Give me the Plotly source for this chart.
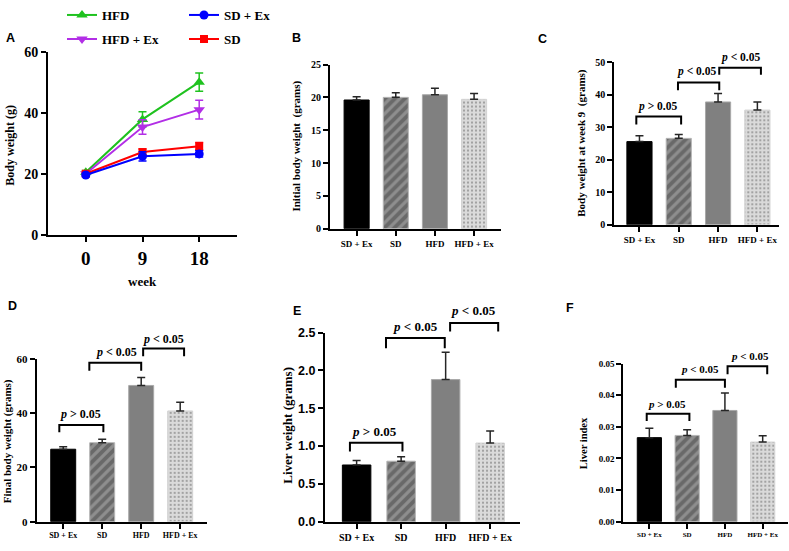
import plotly.graph_objects as go

W, H = 789, 551

# ---------------- data ----------------
groups = ["SD + Ex", "SD", "HFD", "HFD + Ex"]
weeks = [0, 9, 18]

# Panel A: body weight over time (mean, SEM)
hfd_bw = [20.5, 37.8, 50.0]
hfd_bw_err = [0.6, 2.5, 3.0]
hfdex_bw = [20.0, 35.3, 41.0]
hfdex_bw_err = [0.6, 2.4, 3.1]
sd_bw = [20.0, 27.1, 29.0]
sd_bw_err = [0.6, 1.0, 1.2]
sdex_bw = [19.6, 25.7, 26.5]
sdex_bw_err = [0.5, 1.5, 1.0]

# Panels B-F: per-group means and upper error
initial_bw = [19.6, 20.0, 20.4, 19.7]
initial_bw_err = [0.5, 0.7, 1.0, 0.9]
week9_bw = [25.6, 26.6, 37.8, 35.3]
week9_bw_err = [1.8, 1.2, 2.6, 2.5]
final_bw = [26.7, 29.1, 50.2, 40.8]
final_bw_err = [0.9, 1.3, 2.9, 3.2]
liver_wt = [0.75, 0.80, 1.88, 1.04]
liver_wt_err = [0.06, 0.06, 0.36, 0.16]
liver_idx = [0.0266, 0.0273, 0.0352, 0.0252]
liver_idx_err = [0.0030, 0.0018, 0.0055, 0.0020]

# significance brackets: (x_left, x_right, y_leg_end, y_bar, sign, label_x, label_y)
brackets_C = [(-0.08, 1.06, 30.9, 33.3, "&gt;", 0.45, 36.4),
              (0.98, 2.03, 41.4, 43.8, "&lt;", 1.46, 47.1),
              (2.03, 3.09, 46.2, 48.3, "&lt;", 2.56, 51.6)]
brackets_D = [(-0.10, 1.03, 33.0, 35.6, "&gt;", 0.45, 39.6),
              (0.67, 2.00, 55.6, 58.6, "&lt;", 1.37, 62.7),
              (2.05, 3.10, 61.0, 63.8, "&lt;", 2.56, 67.3)]
brackets_E = [(-0.15, 1.03, 0.927, 1.043, "&gt;", 0.41, 1.197),
              (0.66, 1.98, 2.295, 2.43, "&lt;", 1.33, 2.585),
              (2.10, 3.18, 2.517, 2.628, "&lt;", 2.62, 2.80)]
brackets_F = [(-0.07, 1.06, 0.0319, 0.0342, "&gt;", 0.46, 0.0373),
              (0.70, 2.00, 0.0424, 0.0449, "&lt;", 1.34, 0.0483),
              (2.07, 3.12, 0.0467, 0.0492, "&lt;", 2.67, 0.0524)]

# ---------------- styles ----------------
SERIF = "Liberation Serif"
SANS = "Liberation Sans"
bar_colors = ["#000000", "#8e8e8e", "#808080", "#dadada"]
bar_line = ["#000000", "#b5b5b5", "#a8a8a8", "#d2d2d2"]
pat_shape = ["", "/", "", "."]
pat_fg = ["#000000", "#0a0a0a", "#808080", "#666666"]
pat_size = [8, 7, 8, 4]
pat_solid = [0.3, 0.55, 0.3, 0.2]


def xdom(p0, p1):
    return [p0 / W, p1 / W]


def ydom(top, bot):
    return [1 - bot / H, 1 - top / H]


fig = go.Figure()

# ---------------- panel A ----------------
series = [
    ("HFD", hfd_bw, hfd_bw_err, "#1fc21f", "triangle-up", 10, "legend"),
    ("HFD + Ex", hfdex_bw, hfdex_bw_err, "#b22ee6", "triangle-down", 10, "legend3"),
    ("SD", sd_bw, sd_bw_err, "#ff0000", "square", 8, "legend4"),
    ("SD + Ex", sdex_bw, sdex_bw_err, "#0000ff", "circle", 9, "legend2"),
]
for name, ys, es, col, sym, sz, lg in series:
    fig.add_trace(go.Scatter(
        x=weeks, y=ys, name=name, mode="lines+markers", legend=lg,
        line=dict(color=col, width=2),
        marker=dict(color=col, symbol=sym, size=sz),
        error_y=dict(type="data", array=es, color=col, thickness=1.5, width=4),
        xaxis="x", yaxis="y", cliponaxis=False,
    ))

# ---------------- bar panels ----------------
panels = [
    ("2", initial_bw, initial_bw_err),
    ("3", week9_bw, week9_bw_err),
    ("4", final_bw, final_bw_err),
    ("5", liver_wt, liver_wt_err),
    ("6", liver_idx, liver_idx_err),
]
xs = list(range(len(groups)))
for ax, vals, errs in panels:
    fig.add_trace(go.Bar(
        x=xs, y=vals, width=0.64, showlegend=False,
        marker=dict(color=bar_colors, line=dict(color=bar_line, width=1),
                    pattern=dict(shape=pat_shape, fgcolor=pat_fg, bgcolor=bar_colors,
                                 size=pat_size, solidity=pat_solid)),
        error_y=dict(type="data", array=errs, arrayminus=[0] * len(errs), symmetric=False,
                     color="#262626", thickness=1.5, width=4),
        xaxis="x" + ax, yaxis="y" + ax, cliponaxis=False,
    ))


def axstyle(**kw):
    d = dict(showline=True, linecolor="black", linewidth=2, ticks="outside",
             ticklen=5, tickwidth=2, tickcolor="black", showgrid=False,
             zeroline=False, fixedrange=True)
    d.update(kw)
    return d


def tf(size, family=SERIF):
    return dict(family=family, size=size, color="black", weight="bold")


geo = {
    # ax: (x px range, y px range (top,bottom), x range, y range, dtick, fmt, ytick font, xtick font size)
    "2": ((330, 500.7), (57.3, 226.7), [-0.68, 3.68], [0, 25], 5, "d", tf(10), 9),
    "3": ((614.3, 779), (55, 222.7), [-0.64, 3.55], [0, 50], 10, "d", tf(10), 9),
    "4": ((36.7, 206.7), (361, 529), [-0.68, 3.68], [0, 60], 20, "d", tf(11), 8),
    "5": ((325, 520), (334, 529), [-0.71, 3.67], [0, 2.5], 0.5, ".1f", tf(12.5, SANS), 10),
    "6": ((623.3, 788), (366, 529), [-0.69, 3.67], [0, 0.05], 0.01, ".2f", tf(9), 7),
}

layout = dict(
    width=W, height=H, autosize=False,
    margin=dict(l=0, r=0, t=0, b=0),
    paper_bgcolor="white", plot_bgcolor="white",
    xaxis=axstyle(domain=xdom(48, 237), range=[-6, 24], tickvals=weeks,
                  tickfont=tf(19), anchor="y"),
    yaxis=axstyle(domain=ydom(44, 233), range=[0, 60], dtick=20,
                  tickfont=tf(14), anchor="x"),
)
for ax, (xp, yp, xr, yr, dt, fmt, ytf, xfs) in geo.items():
    layout["xaxis" + ax] = axstyle(domain=xdom(*xp), range=xr, tickvals=xs,
                                   ticktext=groups, tickfont=tf(xfs), anchor="y" + ax)
    layout["yaxis" + ax] = axstyle(domain=ydom(*yp), range=yr, dtick=dt,
                                   tickformat=fmt, tickfont=ytf, anchor="x" + ax)

# legends
leg_common = dict(bgcolor="rgba(0,0,0,0)", borderwidth=0, font=tf(13),
                  xref="paper", yref="paper", xanchor="left", yanchor="middle",
                  itemclick=False, itemdoubleclick=False)
layout["legend"] = dict(leg_common, x=62 / W, y=1 - 6 / H)
layout["legend3"] = dict(leg_common, x=62 / W, y=1 - 31 / H)
layout["legend2"] = dict(leg_common, x=184 / W, y=1 - 6 / H)
layout["legend4"] = dict(leg_common, x=184 / W, y=1 - 31 / H)

fig.update_layout(**layout)

annotations = []
shapes = []


def ann(text, x, y, size, family=SERIF, angle=0, xref="paper", yref="paper"):
    annotations.append(dict(text=text, x=x, y=y, xref=xref, yref=yref,
                            showarrow=False, textangle=angle,
                            xanchor="center", yanchor="middle",
                            font=dict(family=family, size=size, color="black", weight="bold")))


# panel letters
for letter, px, py in [("A", 10, 30), ("B", 296, 30), ("C", 542, 31),
                       ("D", 12, 306), ("E", 297, 312), ("F", 570, 309)]:
    ann(letter, px / W, 1 - py / H, 12.5, SANS)

# axis titles
ann("Body weight (g)", 10 / W, 1 - 141 / H, 12, angle=-90)
ann("week", 142 / W, 1 - 281 / H, 13)
ann("Initial body weight&nbsp; (grams)", 297 / W, 1 - 142 / H, 11, angle=-90)
ann("Body weight at week 9&nbsp; (grams)", 582 / W, 1 - 138 / H, 11, angle=-90)
ann("Final body weight (grams)", 7 / W, 1 - 446 / H, 11, angle=-90)
ann("Liver weight (grams)", 288 / W, 1 - 430 / H, 13, angle=-90)
ann("Liver index", 583 / W, 1 - 448 / H, 10.5, angle=-90)


def frac(v, r):
    return (v - r[0]) / (r[1] - r[0])


# significance brackets (placed in axis-domain units derived from each axis range)
for ax, brs, fs in [("3", brackets_C, 11.5), ("4", brackets_D, 12),
                    ("5", brackets_E, 13), ("6", brackets_F, 11)]:
    xr = geo[ax][2]
    yr = geo[ax][3]
    for x0, x1, yl, yb, sign, lx, ly in brs:
        fx0, fx1 = frac(x0, xr), frac(x1, xr)
        fyl, fyb = frac(yl, yr), frac(yb, yr)
        shapes.append(dict(type="path", xref="x%s domain" % ax, yref="y%s domain" % ax,
                           path="M%f,%f L%f,%f L%f,%f L%f,%f" % (fx0, fyl, fx0, fyb, fx1, fyb, fx1, fyl),
                           line=dict(color="black", width=2)))
        ann("<i>p</i> %s 0.05" % sign, frac(lx, xr), frac(ly, yr), fs,
            xref="x%s domain" % ax, yref="y%s domain" % ax)

fig.update_layout(annotations=annotations, shapes=shapes)
fig.write_html("out.html")
